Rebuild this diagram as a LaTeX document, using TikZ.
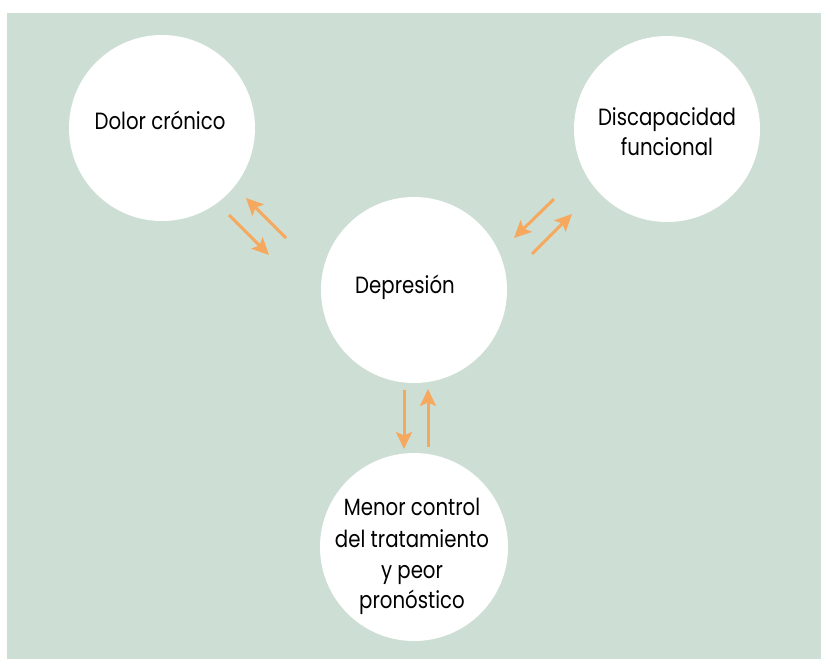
\documentclass[tikz,border=0pt]{standalone}
\usepackage{fontspec}
\setmainfont{Poppins}[FakeStretch=0.84]
\usetikzlibrary{arrows.meta}
\definecolor{bggreen}{RGB}{205,223,212}
\definecolor{arrorange}{RGB}{245,168,94}
\tikzset{
  bubble/.style={circle, fill=white, draw=none, minimum size=186pt, inner sep=0pt},
  lbl/.style={anchor=base, inner sep=0pt, font=\fontsize{23.5}{30}\selectfont, text=black},
  flow/.style={draw=arrorange, line width=3pt, -{Stealth[length=17pt,width=16pt,inset=3.5pt]}}
}
\begin{document}
\begin{tikzpicture}[x=1pt,y=-1pt]
\useasboundingbox (0,0) rectangle (821,659);
\fill[white] (0,0) rectangle (821,659);
\fill[bggreen] (7,13) rectangle (821,659);
% circles
\node[bubble] (dolor) at (162,128) {};
\node[bubble] (disc) at (667,129) {};
\node[bubble] (dep) at (414,290) {};
\node[bubble, minimum size=188pt] (menor) at (414,547) {};
% texts
\node[lbl] (tdolor) at (160,129) {Dolor crónico};
\node[lbl] (tdisc1) at (667,125) {Discapacidad};
\node[lbl] (tdisc2) at (667,155) {funcional};
\node[lbl] (tdep) at (405,293) {Depresión};
\node[lbl] (tm1) at (412,515) {Menor control};
\node[lbl] (tm2) at (412,547) {del tratamiento};
\node[lbl] (tm3) at (412,578) {y peor};
\node[lbl] (tm4) at (412,608) {pronóstico};
% arrow end points
\coordinate (a1s) at (286,238);
\coordinate (a1e) at (246,198);
\coordinate (a2s) at (229,215);
\coordinate (a2e) at (269,255);
\coordinate (b1s) at (554,199);
\coordinate (b1e) at (514,238);
\coordinate (b2s) at (532,254);
\coordinate (b2e) at (572,214);
\coordinate (c1s) at (404,390);
\coordinate (c1e) at (404,449);
\coordinate (c2s) at (428,447);
\coordinate (c2e) at (428,389);
% arrows
\draw[flow] (a1s) -- (a1e);
\draw[flow] (a2s) -- (a2e);
\draw[flow] (b1s) -- (b1e);
\draw[flow] (b2s) -- (b2e);
\draw[flow] (c1s) -- (c1e);
\draw[flow] (c2s) -- (c2e);
\end{tikzpicture}
\end{document}
